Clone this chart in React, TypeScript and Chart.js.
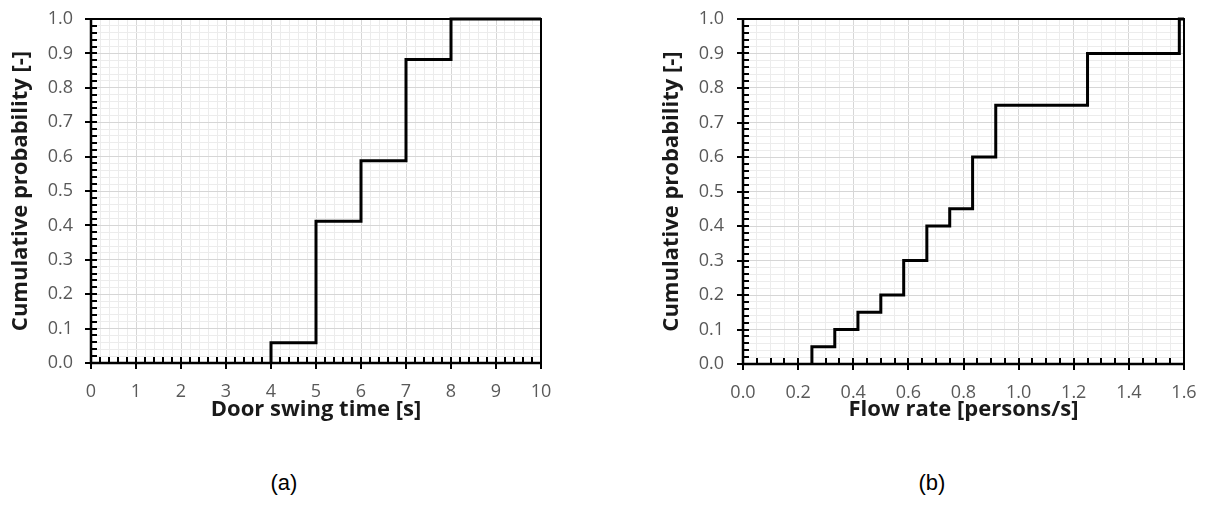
import React, { useEffect, useRef } from 'react';
import { Chart, registerables } from 'chart.js';
Chart.register(...registerables);

// (a) door swing time CDF (step points; first point is where the CDF leaves 0)
const doorSwingTime = [4, 4, 5, 6, 7, 8, 10];
const doorSwingProb = [0, 0.059, 0.412, 0.588, 0.882, 1.0, 1.0];

// (b) flow rate CDF
const flowRate = [0.25, 0.25, 0.333, 0.417, 0.5, 0.583, 0.667, 0.75, 0.833, 0.917, 1.25, 1.583, 1.6];
const flowProb = [0, 0.05, 0.1, 0.15, 0.2, 0.3, 0.4, 0.45, 0.6, 0.75, 0.9, 1.0, 1.0];

const yAxisTitle = 'Cumulative probability [-]';
const xTitleA = 'Door swing time [s]';
const xTitleB = 'Flow rate [persons/s]';
const panelLabels = ['(a)', '(b)'];

const FONT = '"Open Sans", "Noto Sans", sans-serif';

type Cfg = {
  xs: number[];
  ys: number[];
  xMax: number;
  xStep: number;
  isMajorX: (v: number) => boolean;
  fmtX: (v: number) => string;
  xTitle: string;
  width: number;
  height: number;
  yWidth: number;
  rightPad: number;
  top: number;
  xHeight: number;
  yTitlePad: number;
  yTickPad: number;
};

const isMajorY = (v: number) => Math.round(v * 100) % 10 === 0;

function makeFramePlugin(isMajorX: (v: number) => boolean) {
  return {
    id: 'frameTicks',
    afterDatasetsDraw(chart: any) {
      const { ctx, chartArea: a } = chart;
      const xs = chart.scales.x;
      const ys = chart.scales.y;
      ctx.save();
      ctx.strokeStyle = '#000';
      ctx.lineWidth = 2;
      ctx.strokeRect(a.left, a.top, a.right - a.left, a.bottom - a.top);
      ctx.beginPath();
      xs.ticks.forEach((t: any) => {
        const p = Math.round(xs.getPixelForValue(t.value));
        const major = isMajorX(t.value);
        ctx.moveTo(p, a.bottom - 6);
        ctx.lineTo(p, major ? a.bottom + 6 : a.bottom);
      });
      ys.ticks.forEach((t: any) => {
        const p = Math.round(ys.getPixelForValue(t.value));
        const major = isMajorY(t.value);
        ctx.moveTo(a.left + 6, p);
        ctx.lineTo(major ? a.left - 6 : a.left, p);
      });
      ctx.stroke();
      ctx.lineWidth = 2.5;
      ctx.beginPath();
      ctx.moveTo(a.left, a.top);
      ctx.lineTo(a.left, a.bottom);
      ctx.lineTo(a.right, a.bottom);
      ctx.stroke();
      ctx.restore();
    },
  };
}

function StepChart(c: Cfg) {
  const ref = useRef<HTMLCanvasElement | null>(null);
  useEffect(() => {
    if (!ref.current) return;
    const chart = new Chart(ref.current, {
      type: 'line',
      data: {
        datasets: [
          {
            data: c.xs.map((x, i) => ({ x, y: c.ys[i] })),
            stepped: 'before',
            borderColor: '#000',
            borderWidth: 3,
            pointRadius: 0,
            fill: false,
            clip: false as any,
          },
        ],
      },
      options: {
        animation: false,
        responsive: false,
        layout: { padding: { left: 0, top: c.top, right: c.rightPad, bottom: 0 } },
        plugins: { legend: { display: false }, tooltip: { enabled: false } },
        scales: {
          x: {
            type: 'linear',
            min: 0,
            max: c.xMax,
            border: { display: false },
            grid: {
              drawTicks: false,
              lineWidth: 1,
              color: (ctx: any) => (c.isMajorX(ctx.tick.value) ? '#d6d6d6' : '#ececec'),
            },
            ticks: {
              stepSize: c.xStep,
              maxTicksLimit: 1000,
              autoSkip: false,
              maxRotation: 0,
              padding: 18,
              color: '#595959',
              font: { family: FONT, size: 18 },
              callback: (v: any) => (c.isMajorX(Number(v)) ? c.fmtX(Number(v)) : ''),
            },
            title: {
              display: true,
              text: c.xTitle,
              color: '#1a1a1a',
              font: { family: FONT, size: 22, weight: 'bold' },
              padding: { top: 0, bottom: 17 },
            },
            afterFit: (s: any) => {
              s.height = c.xHeight;
              s.paddingLeft = 0;
              s.paddingRight = 0;
            },
          },
          y: {
            type: 'linear',
            min: 0,
            max: 1,
            border: { display: false },
            grid: {
              drawTicks: false,
              lineWidth: 1,
              color: (ctx: any) => (isMajorY(ctx.tick.value) ? '#d6d6d6' : '#ececec'),
            },
            ticks: {
              stepSize: 0.02,
              maxTicksLimit: 1000,
              autoSkip: false,
              padding: c.yTickPad,
              color: '#595959',
              font: { family: FONT, size: 18 },
              callback: (v: any) => (isMajorY(Number(v)) ? Number(v).toFixed(1) : ''),
            },
            title: {
              display: true,
              text: yAxisTitle,
              color: '#1a1a1a',
              font: { family: FONT, size: 22, weight: 'bold' },
              padding: { top: c.yTitlePad, bottom: 0 },
            },
            afterFit: (s: any) => {
              s.width = c.yWidth;
              s.paddingTop = 0;
              s.paddingBottom = 0;
            },
          },
        },
      },
      plugins: [makeFramePlugin(c.isMajorX)],
    } as any);
    return () => chart.destroy();
  }, []);
  return <canvas ref={ref} width={c.width} height={c.height} style={{ display: 'block' }} />;
}

export default function App() {
  return (
    <div style={{ position: 'absolute', left: 0, top: 0, width: 1206, height: 520, background: '#fff', overflow: 'hidden' }}>
      <div style={{ position: 'absolute', left: 0, top: 0 }}>
        <StepChart
          xs={doorSwingTime}
          ys={doorSwingProb}
          xMax={10}
          xStep={0.2}
          isMajorX={(v) => Math.abs(v - Math.round(v)) < 1e-6}
          fmtX={(v) => String(Math.round(v))}
          xTitle={xTitleA}
          width={603}
          height={440}
          yWidth={91}
          rightPad={62}
          top={19}
          xHeight={77}
          yTitlePad={8}
          yTickPad={18}
        />
      </div>
      <div style={{ position: 'absolute', left: 603, top: 0 }}>
        <StepChart
          xs={flowRate}
          ys={flowProb}
          xMax={1.6}
          xStep={0.05}
          isMajorX={(v) => Math.round(v * 100) % 20 === 0}
          fmtX={(v) => v.toFixed(1)}
          xTitle={xTitleB}
          width={603}
          height={440}
          yWidth={140}
          rightPad={22}
          top={19}
          xHeight={76}
          yTitlePad={56}
          yTickPad={19}
        />
      </div>
      {panelLabels.map((t, i) => (
        <div
          key={t}
          style={{
            position: 'absolute',
            left: i === 0 ? 284 - 50 : 932 - 50,
            width: 100,
            top: 469,
            textAlign: 'center',
            fontFamily: '"Liberation Sans", Arial, sans-serif',
            fontSize: 22,
            color: '#000',
            lineHeight: '28px',
          }}
        >
          {t}
        </div>
      ))}
    </div>
  );
}
